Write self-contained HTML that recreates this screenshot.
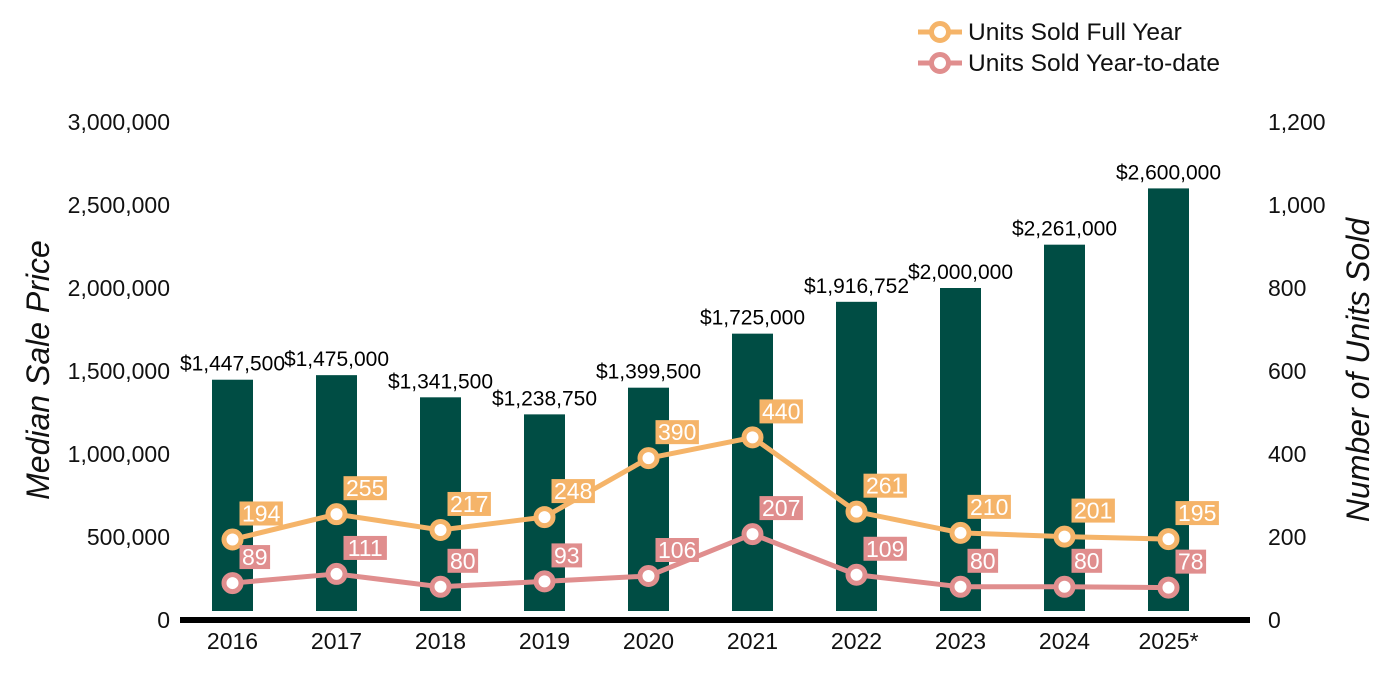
<!DOCTYPE html>
<html><head><meta charset="utf-8">
<style>
html,body{margin:0;padding:0;background:#fff;}
svg{display:block;font-family:"Liberation Sans",Arial,sans-serif;}
</style></head>
<body>
<svg id="chart" width="1400" height="700" viewBox="0 0 1400 700"></svg>
<script>
const categories=["2016","2017","2018","2019","2020","2021","2022","2023","2024","2025*"];
const medianPrices=[1447500,1475000,1341500,1238750,1399500,1725000,1916752,2000000,2261000,2600000];
const unitsFullYear=[194,255,217,248,390,440,261,210,201,195];
const unitsYTD=[89,111,80,93,106,207,109,80,80,78];
const leftTicks=[0,500000,1000000,1500000,2000000,2500000,3000000];
const rightTicks=[0,200,400,600,800,1000,1200];

const NS="http://www.w3.org/2000/svg";
const svg=document.getElementById('chart');
const Y0=620,YTOP=122;
function yL(v){return Y0-(v/3000000)*(Y0-YTOP);}
function yR(v){return Y0-(v/1200)*(Y0-YTOP);}
function xC(i){return 232.5+i*104;}
function mk(tag,attrs,text){const e=document.createElementNS(NS,tag);for(const k in attrs)e.setAttribute(k,attrs[k]);if(text!==undefined)e.textContent=text;svg.appendChild(e);return e;}
function fmt(n){return n.toLocaleString('en-US');}
const ORANGE="#F5B469",PINK="#E08E8E",BAR="#004D44";

leftTicks.forEach(v=>{
  const t=mk('text',{x:170,y:yL(v)+8,'text-anchor':'end','font-size':23,fill:'#111'},fmt(v));
  
  
});
rightTicks.forEach(v=>{
  const t=mk('text',{x:1268,y:yR(v)+8,'text-anchor':'start','font-size':23,fill:'#111'},fmt(v));
  
  
});
let t=mk('text',{x:0,y:0,transform:'translate(49,370) rotate(-90)','text-anchor':'middle','font-size':32,'font-style':'italic',fill:'#111'},'Median Sale Price');


t=mk('text',{x:0,y:0,transform:'translate(1369,370) rotate(-90)','text-anchor':'middle','font-size':32,'font-style':'italic',fill:'#111'},'Number of Units Sold');



medianPrices.forEach((v,i)=>{
  const top=yL(v);
  const r=mk('rect',{x:xC(i)-20.5,y:top,width:41,height:611-top,fill:BAR});
  
  
  const l=mk('text',{x:xC(i),y:top-9,'text-anchor':'middle','font-size':21,fill:'#000'},'$'+fmt(v));
  
  
});

const ax=mk('rect',{x:180,y:617,width:1070,height:6,fill:'#000'});


categories.forEach((c,i)=>{
  const l=mk('text',{x:xC(i),y:649,'text-anchor':'middle','font-size':23,fill:'#111'},c);
  
  
});

function series(vals,color,name){
  const pts=vals.map((v,i)=>xC(i)+','+yR(v)).join(' ');
  const pl=mk('polyline',{points:pts,fill:'none',stroke:color,'stroke-width':5,'stroke-linejoin':'round'});
  
  
  vals.forEach((v,i)=>{
    const c=mk('circle',{cx:xC(i),cy:yR(v),r:8.5,fill:'#fff',stroke:color,'stroke-width':5});
    
    
    const s=String(v);const w=s.length*12.8+5;
    const bx=xC(i)+7,by=yR(v)-38;
    const b=mk('rect',{x:bx,y:by,width:w,height:24,fill:color});
    
    
    const tx=mk('text',{x:bx+w/2,y:by+20,'text-anchor':'middle','font-size':23,fill:'#fff'},s);
    
    
  });
}
series(unitsFullYear,ORANGE,'units-full-year');
series(unitsYTD,PINK,'units-ytd');

function legend(y,color,label,name){
  const g=mk('line',{x1:918,y1:y,x2:962,y2:y,stroke:color,'stroke-width':5});
  
  
  const c=mk('circle',{cx:940,cy:y,r:8.5,fill:'#fff',stroke:color,'stroke-width':5});
  
  
  const tx=mk('text',{x:968,y:y+8,'font-size':24.5,fill:'#111'},label);
  
  
}
legend(32,ORANGE,'Units Sold Full Year','units-full-year');
legend(63,PINK,'Units Sold Year-to-date','units-ytd');
</script>
</body></html>
